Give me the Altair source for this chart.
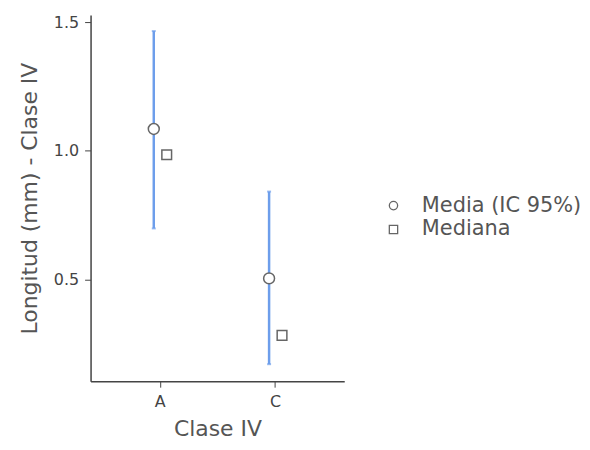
import altair as alt
import pandas as pd

categories = ["A", "C"]
means = [1.085, 0.505]
ci_low = [0.699, 0.172]
ci_high = [1.465, 0.842]
medians = [0.985, 0.284]

df = pd.DataFrame({"cat": categories, "mean": means, "lo": ci_low, "hi": ci_high, "median": medians})

FONT = "DejaVu Sans"
BLUE = "#6d9eeb"
GRAY = "#666666"

x = alt.X("cat:N", title="Clase IV",
          scale=alt.Scale(type="point", padding=0.6),
          axis=alt.Axis(labelAngle=0, labelFontSize=16, titleFontSize=22, labelColor="#444",
                        titleColor="#555", titleFontWeight="normal", domainColor="#444",
                        tickColor="#444", domainWidth=1.5, titlePadding=10, labelPadding=6))
yscale = alt.Scale(domain=[0.106, 1.527], nice=False, zero=False)
yaxis = alt.Axis(values=[0.5, 1.0, 1.5], format=".1f", labelFontSize=16, titleFontSize=22,
                 labelColor="#444", titleColor="#555", titleFontWeight="normal",
                 domainColor="#444", tickColor="#444", domainWidth=1.5, grid=False,
                 titlePadding=12, labelPadding=6)

base = alt.Chart(df)

rule = base.mark_rule(color=BLUE, strokeWidth=2.5, xOffset=-6).encode(
    x=x, y=alt.Y("lo:Q", scale=yscale, axis=yaxis, title="Longitud (mm) - Clase IV"), y2="hi:Q")
cap_hi = base.mark_tick(color=BLUE, orient="horizontal", size=4, thickness=2, xOffset=-6).encode(
    x=x, y=alt.Y("hi:Q", scale=yscale))
cap_lo = base.mark_tick(color=BLUE, orient="horizontal", size=4, thickness=2, xOffset=-6).encode(
    x=x, y=alt.Y("lo:Q", scale=yscale))

series_dom = ["Media (IC 95%)", "Mediana"]
shape_scale = alt.Scale(domain=series_dom, range=["circle", "square"])
stroke_scale = alt.Scale(domain=series_dom, range=[GRAY, GRAY])
legend = alt.Legend(title=None, labelFontSize=21, labelColor="#555", symbolSize=70,
                    symbolFillColor="white", symbolStrokeWidth=1.3, labelLimit=400,
                    rowPadding=2, orient="none", legendX=294, legendY=181,
                    labelOffset=18)

mean_pts = base.mark_point(filled=False, fill="white", strokeWidth=1.5, size=120,
                           opacity=1, xOffset=-6).transform_calculate(
    series="'Media (IC 95%)'").encode(
    x=x, y=alt.Y("mean:Q", scale=yscale),
    shape=alt.Shape("series:N", scale=shape_scale, legend=legend),
    stroke=alt.Stroke("series:N", scale=stroke_scale, legend=legend))
med_pts = base.mark_point(filled=False, fill="white", strokeWidth=1.5, size=95,
                          opacity=1, xOffset=7).transform_calculate(
    series="'Mediana'").encode(
    x=x, y=alt.Y("median:Q", scale=yscale),
    shape=alt.Shape("series:N", scale=shape_scale, legend=legend),
    stroke=alt.Stroke("series:N", scale=stroke_scale, legend=legend))

chart = alt.layer(rule, cap_hi, cap_lo, mean_pts, med_pts).properties(
    width=255, height=368, padding={"left": 10, "top": 4, "right": 0, "bottom": 5}
).configure(font=FONT).configure_view(strokeWidth=0, stroke="transparent").configure_axis(
    ticks=True, tickSize=6, labelFontSize=16)

chart.save("out.html", embed_options={"renderer": "svg", "actions": False})
